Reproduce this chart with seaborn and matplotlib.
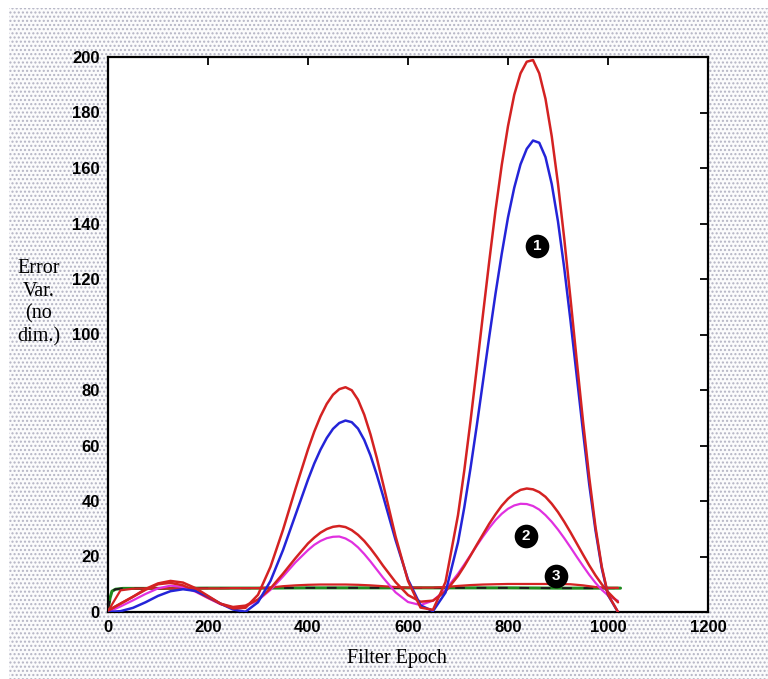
import matplotlib
matplotlib.use("Agg")
import matplotlib.pyplot as plt
import seaborn as sns
import pandas as pd
from matplotlib.patches import Rectangle

# ---------------- data ----------------
epoch = [0, 25, 50, 75, 100, 125, 150, 175, 200, 225, 250, 275, 300, 325, 350, 375, 400,
         412.5, 425, 437.5, 450, 462.5, 475, 487.5, 500, 512.5, 525, 537.5, 550,
         575, 600, 625, 650, 675, 700,
         712.5, 725, 737.5, 750, 762.5, 775, 787.5, 800, 812.5, 825, 837.5, 850,
         862.5, 875, 887.5, 900, 912.5, 925, 937.5, 950, 962.5, 975, 987.5, 1000,
         1020]

blue_1 = [0, 0.3, 1.5, 3.5, 5.8, 7.5, 8.2, 7.6, 5.6, 3.0, 0.9, 0.1, 3.5, 11.2, 22.3, 35.0, 47.7,
          53.5, 58.5, 62.7, 66.0, 68.1, 69.0, 68.4, 66.1, 62.0, 56.4, 49.5, 41.9,
          26.0, 11.7, 2.4, 0.3, 7.0, 25.1,
          37.6, 51.8, 67.1, 83.1, 99.2, 114.7, 129.1, 142.2, 152.9, 161.3, 166.9, 169.9,
          169.1, 163.9, 154.2, 140.7, 123.9, 105.0, 85.0, 65.1, 45.9, 29.4, 15.8, 6.1,
          0]

red_1 = [0.5, 3.0, 5.5, 8.3, 10.3, 11.2, 10.6, 8.6, 5.8, 3.0, 1.3, 1.5, 6.2, 16.3, 29.6, 44.4, 58.6,
         65.0, 70.5, 75.0, 78.3, 80.3, 81.0, 79.9, 76.5, 71.1, 64.0, 55.6, 46.3,
         27.3, 11.2, 1.6, 0.8, 10.8, 34.9,
         50.9, 68.8, 87.8, 107.3, 126.4, 144.7, 161.1, 175.1, 186.4, 194.1, 198.3, 198.9,
         194.1, 184.9, 171.4, 154.3, 134.5, 112.9, 90.6, 68.8, 48.5, 30.6, 16.4, 6.3,
         0]

red_2 = [0.5, 3.0, 5.5, 8.0, 10.0, 10.5, 9.6, 7.6, 5.2, 3.0, 1.8, 2.3, 4.5, 8.5, 13.8, 19.4, 24.7,
         26.8, 28.6, 29.9, 30.7, 31.0, 30.6, 29.5, 27.8, 25.6, 22.9, 19.9, 16.7,
         10.8, 6.1, 3.7, 4.1, 7.4, 13.0,
         16.5, 20.3, 24.2, 28.0, 31.8, 35.2, 38.3, 40.8, 42.7, 44.0, 44.5, 44.2,
         43.2, 41.5, 39.0, 36.0, 32.5, 28.7, 24.7, 20.7, 16.8, 13.2, 10.0, 7.2,
         3.5]

magenta_2 = [0, 2.0, 4.2, 6.5, 8.5, 9.5, 9.0, 7.3, 5.0, 2.8, 1.6, 2.0, 4.2, 8.0, 12.8, 17.9, 22.3,
             24.2, 25.6, 26.6, 27.1, 27.2, 26.5, 25.2, 23.3, 20.9, 18.2, 15.3, 12.4,
             7.1, 3.6, 2.5, 4.1, 8.0, 13.8,
             17.1, 20.5, 23.9, 27.2, 30.3, 33.1, 35.4, 37.2, 38.4, 39.0, 38.9, 38.2,
             36.9, 34.9, 32.5, 29.7, 26.6, 23.3, 19.9, 16.6, 13.4, 10.5, 8.0, 6.0,
             4.0]

red_3 = [0.3, 7.8, 8.4, 8.5, 8.5, 8.5, 8.5, 8.5, 8.5, 8.5, 8.6, 8.6, 8.6, 8.8, 9.3, 9.6, 9.8,
         9.85, 9.9, 9.9, 9.9, 9.9, 9.9, 9.85, 9.8, 9.7, 9.6, 9.45, 9.3,
         9.0, 8.8, 8.8, 8.8, 9.0, 9.4,
         9.55, 9.7, 9.8, 9.9, 9.95, 10.0, 10.05, 10.1, 10.1, 10.1, 10.1, 10.1,
         10.1, 10.1, 10.1, 10.1, 10.05, 10.0, 9.8, 9.6, 9.3, 9.0, 8.8, 8.7,
         8.7]

green_epoch = [0, 4, 8, 15, 30, 100, 200, 300, 400, 500, 600, 700, 800, 900, 1000, 1025]
green_3 = [0.5, 5.0, 7.5, 8.2, 8.5, 8.5, 8.6, 8.6, 8.7, 8.7, 8.7, 8.7, 8.7, 8.6, 8.6, 8.6]

marker_labels = ["1", "2", "3"]
marker_x = [858, 836, 896]
marker_y = [132, 27.4, 13]

x_ticks = [0, 200, 400, 600, 800, 1000, 1200]
y_ticks = [0, 20, 40, 60, 80, 100, 120, 140, 160, 180, 200]

# ---------------- figure ----------------
sns.set_theme(style="white")
plt.rcParams["font.family"] = ["Liberation Sans", "DejaVu Sans"]

W, H = 768, 679
fig = plt.figure(figsize=(W / 100, H / 100), dpi=100)
fig.patch.set_facecolor("white")

# stippled background
bg = Rectangle((9 / W, 0), 1, (H - 8) / H, transform=fig.transFigure,
               facecolor="#fbfbfc", edgecolor="#b4b4c4", hatch="....", lw=0,
               zorder=-10)
fig.patches.append(bg)

ax = fig.add_axes([108 / W, (H - 612) / H, 600 / W, (612 - 57) / H])
ax.set_facecolor("white")

df = pd.DataFrame({"epoch": epoch, "b1": blue_1, "r1": red_1, "r2": red_2,
                   "m2": magenta_2, "r3": red_3})
gdf = pd.DataFrame({"epoch": green_epoch, "g3": green_3})

RED = "#d42222"
sns.lineplot(data=gdf, x="epoch", y="g3", ax=ax, color="#1e8a1e", lw=2.2, sort=False, zorder=2)
sns.lineplot(data=gdf, x="epoch", y="g3", ax=ax, color="#1a1a1a", lw=1.4, sort=False,
             zorder=3, linestyle=(0, (5, 6)))
sns.lineplot(data=df, x="epoch", y="r3", ax=ax, color=RED, lw=1.6, sort=False, zorder=3)
sns.lineplot(data=df, x="epoch", y="m2", ax=ax, color="#e030e0", lw=1.6, sort=False, zorder=4)
sns.lineplot(data=df, x="epoch", y="r2", ax=ax, color=RED, lw=1.8, sort=False, zorder=4)
sns.lineplot(data=df, x="epoch", y="b1", ax=ax, color="#2424d8", lw=1.8, sort=False, zorder=5)
sns.lineplot(data=df, x="epoch", y="r1", ax=ax, color=RED, lw=1.8, sort=False, zorder=5)

# numbered markers
for lab, mx, my in zip(marker_labels, marker_x, marker_y):
    ax.scatter([mx], [my], s=290, color="black", zorder=8, linewidths=0)
    ax.text(mx, my, lab, color="white", ha="center", va="center", fontsize=11,
            fontweight="bold", zorder=9)

ax.set_xlim(0, 1200)
ax.set_ylim(0, 200)
ax.set_xticks(x_ticks)
ax.set_yticks(y_ticks)
ax.set_xticklabels([str(v) for v in x_ticks])
ax.set_yticklabels([str(v) for v in y_ticks])
ax.tick_params(direction="in", length=6, width=1.3, top=True, right=True,
               labelsize=12, colors="black", pad=6)
for lbl in ax.get_xticklabels() + ax.get_yticklabels():
    lbl.set_fontweight("bold")
for sp in ax.spines.values():
    sp.set_visible(True)
    sp.set_color("black")
    sp.set_linewidth(1.6)
ax.set_xlabel("")
ax.set_ylabel("")
ax.grid(False)

serif = ["Liberation Serif", "DejaVu Serif"]
fig.text(397 / W, 1 - 658 / H, "Filter Epoch", ha="center", va="center",
         fontsize=14.5, family=serif, color="black")
fig.text(39 / W, 1 - 303 / H, "Error\nVar.\n(no\ndim.)", ha="center", va="center",
         fontsize=14.5, family=serif, color="black", linespacing=1.25)

fig.savefig("out.png", dpi=100, facecolor=fig.get_facecolor())
